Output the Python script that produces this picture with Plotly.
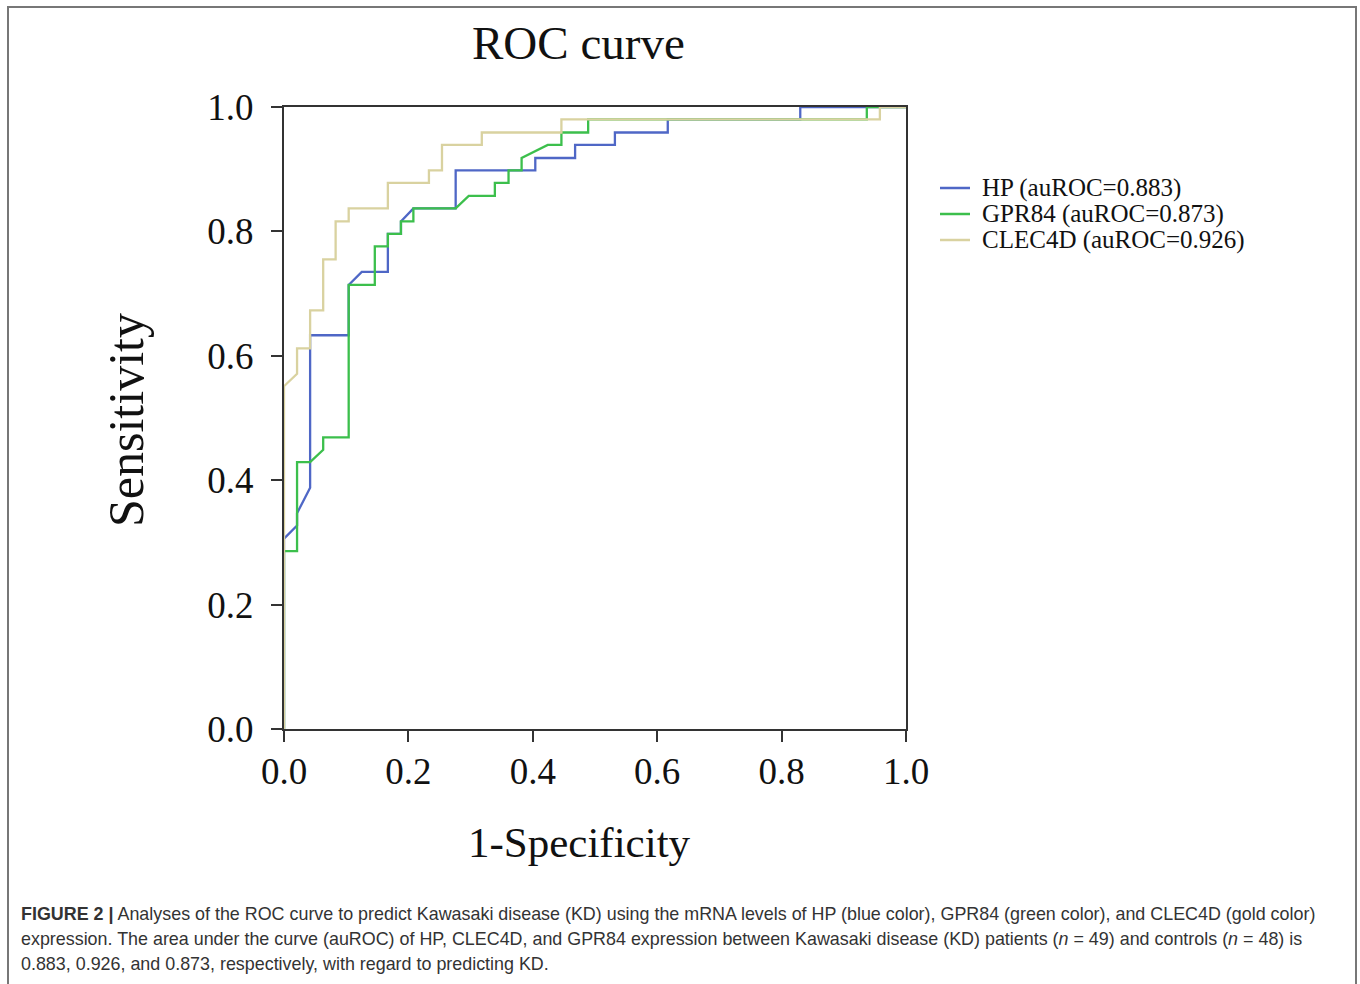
import plotly.graph_objects as go

# ---- data ----
hp_x = [0, 0, 0.021, 0.021, 0.042, 0.042, 0.042, 0.104, 0.104, 0.125, 0.167, 0.167, 0.188, 0.188,
        0.208, 0.276, 0.276, 0.404, 0.404, 0.468, 0.468, 0.532, 0.532, 0.617, 0.617, 0.830, 0.830, 1.0]
hp_y = [0, 0.306, 0.327, 0.347, 0.388, 0.612, 0.633, 0.633, 0.714, 0.735, 0.735, 0.796, 0.796, 0.816,
        0.837, 0.837, 0.898, 0.898, 0.918, 0.918, 0.939, 0.939, 0.959, 0.959, 0.980, 0.980, 1.0, 1.0]

gpr_x = [0, 0, 0.021, 0.021, 0.042, 0.063, 0.063, 0.104, 0.104, 0.146, 0.146, 0.167, 0.167, 0.188,
         0.188, 0.208, 0.208, 0.276, 0.297, 0.339, 0.339, 0.361, 0.361, 0.382, 0.382, 0.424, 0.446,
         0.446, 0.489, 0.489, 0.937, 0.937, 1.0]
gpr_y = [0, 0.286, 0.286, 0.429, 0.429, 0.449, 0.469, 0.469, 0.714, 0.714, 0.776, 0.776, 0.796, 0.796,
         0.816, 0.816, 0.837, 0.837, 0.857, 0.857, 0.878, 0.878, 0.898, 0.898, 0.918, 0.939, 0.939,
         0.959, 0.959, 0.980, 0.980, 1.0, 1.0]

clec_x = [0, 0, 0.021, 0.021, 0.042, 0.042, 0.063, 0.063, 0.083, 0.083, 0.104, 0.104, 0.167, 0.167,
          0.233, 0.233, 0.254, 0.254, 0.318, 0.318, 0.446, 0.446, 0.958, 0.958, 1.0]
clec_y = [0, 0.551, 0.571, 0.612, 0.612, 0.673, 0.673, 0.755, 0.755, 0.816, 0.816, 0.837, 0.837, 0.878,
          0.878, 0.898, 0.898, 0.939, 0.939, 0.959, 0.959, 0.980, 0.980, 1.0, 1.0]

series_names = ["HP (auROC=0.883)", "GPR84 (auROC=0.873)", "CLEC4D (auROC=0.926)"]
series_colors = ["#4f67c6", "#3cbf4c", "#d9d2a0"]
tick_vals = [0.0, 0.2, 0.4, 0.6, 0.8, 1.0]
tick_text = ["0.0", "0.2", "0.4", "0.6", "0.8", "1.0"]

caption_lines = [
    "<b>FIGURE 2 |</b> Analyses of the ROC curve to predict Kawasaki disease (KD) using the mRNA levels of HP (blue color), GPR84 (green color), and CLEC4D (gold color)",
    "expression. The area under the curve (auROC) of HP, CLEC4D, and GPR84 expression between Kawasaki disease (KD) patients (<i>n</i> = 49) and controls (<i>n</i> = 48) is",
    "0.883, 0.926, and 0.873, respectively, with regard to predicting KD.",
]

W, H = 1360, 984
L, R, T, B = 284, 906, 107, 729  # plot area in pixels
PW, PH = R - L, B - T


def px_x(p):
    return (p - L) / PW


def px_y(p):
    return (B - p) / PH


SERIF = "Liberation Serif, Times New Roman, serif"
SANS = "Liberation Sans, Arial, Helvetica, sans-serif"

fig = go.Figure()
for xs, ys, name, col in zip([hp_x, gpr_x, clec_x], [hp_y, gpr_y, clec_y], series_names, series_colors):
    fig.add_trace(go.Scatter(x=xs, y=ys, mode="lines", name=name,
                             line=dict(color=col, width=2.3)))

axis_common = dict(
    range=[0, 1], tickvals=tick_vals, ticktext=tick_text,
    showgrid=False, zeroline=False, showline=True, linecolor="#333", linewidth=2,
    mirror=True, ticks="outside", ticklen=11, tickwidth=2, tickcolor="#333",
    tickfont=dict(family=SERIF, size=37, color="#111"),
)
fig.update_xaxes(**axis_common, ticklabelstandoff=-2)
fig.update_yaxes(**axis_common, ticklabelstandoff=10)

annotations = [
    dict(text="ROC curve", x=px_x(578), y=px_y(43), xref="paper", yref="paper",
         showarrow=False, font=dict(family=SERIF, size=47, color="#111"),
         xanchor="center", yanchor="middle"),
    dict(text="1-Specificity", x=px_x(579), y=px_y(842), xref="paper", yref="paper",
         showarrow=False, font=dict(family=SERIF, size=43, color="#111"),
         xanchor="center", yanchor="middle"),
    dict(text="Sensitivity", x=px_x(126), y=px_y(420), xref="paper", yref="paper",
         showarrow=False, textangle=-90, font=dict(family=SERIF, size=50, color="#111"),
         xanchor="center", yanchor="middle"),
]
for i, line in enumerate(caption_lines):
    annotations.append(dict(text=line, x=px_x(19), y=px_y(914 + 25 * i), xref="paper", yref="paper",
                            showarrow=False, align="left", xanchor="left", yanchor="middle",
                            font=dict(family=SANS, size=17.9, color="#333")))

shapes = [dict(type="rect", xref="paper", yref="paper",
               x0=px_x(8), x1=px_x(1356), y0=px_y(7), y1=px_y(1000),
               line=dict(color="#777", width=2), fillcolor="rgba(0,0,0,0)", layer="below")]

# legend drawn as line samples + text
for i, (name, col) in enumerate(zip(series_names, series_colors)):
    yy = px_y(188 + 26 * i)
    shapes.append(dict(type="line", xref="paper", yref="paper", x0=px_x(940), x1=px_x(970),
                       y0=yy, y1=yy, line=dict(color=col, width=2.5)))
    annotations.append(dict(text=name, x=px_x(980), y=yy, xref="paper", yref="paper",
                            showarrow=False, xanchor="left", yanchor="middle",
                            font=dict(family=SERIF, size=25, color="#111")))

fig.update_layout(
    width=W, height=H,
    margin=dict(l=L, r=W - R, t=T, b=H - B, pad=0),
    paper_bgcolor="white", plot_bgcolor="white",
    showlegend=False,
    annotations=annotations,
    shapes=shapes,
)

fig.write_html(
    "out.html",
    config={"displayModeBar": False},
    post_script="document.body.style.margin='0px';document.body.style.overflow='hidden';",
)
